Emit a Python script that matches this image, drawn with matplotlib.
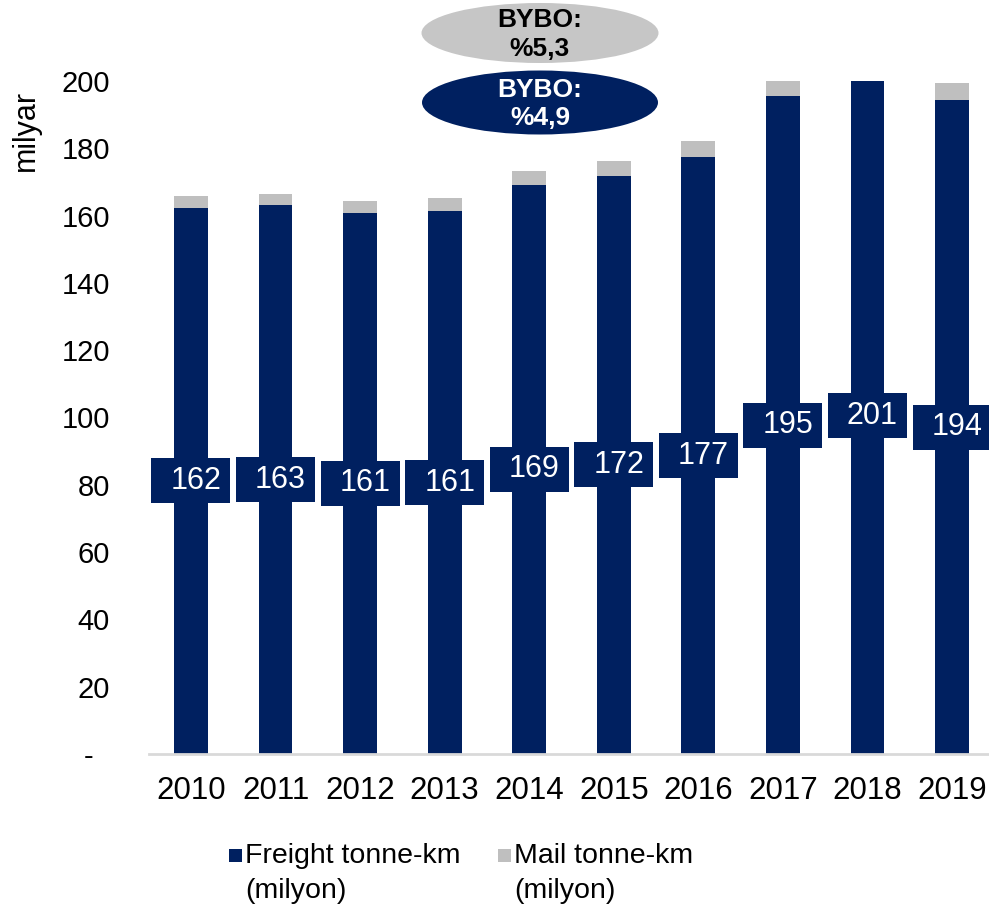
import matplotlib
matplotlib.use("Agg")
import matplotlib.pyplot as plt
from matplotlib.patches import Rectangle, Ellipse
from matplotlib.transforms import ScaledTranslation

plt.rcParams['font.family'] = ['Liberation Sans', 'DejaVu Sans']

years = ['2010', '2011', '2012', '2013', '2014', '2015', '2016', '2017', '2018', '2019']
freight = [162.4, 163.1, 160.9, 161.3, 169.2, 171.8, 177.4, 195.4, 200.9, 194.3]
mail = [3.4, 3.4, 3.5, 3.8, 4.2, 4.3, 4.8, 4.8, 4.9, 5.1]
series_names = ['Freight tonne-km', 'Mail tonne-km']
unit_line = '(milyon)'
yticks = [0, 20, 40, 60, 80, 100, 120, 140, 160, 180, 200]
ytick_labels = ['-  ', '20', '40', '60', '80', '100', '120', '140', '160', '180', '200']
bubble_texts = ['BYBO:\n%5,3', 'BYBO:\n%4,9']

NAVY = '#002060'
GRAY = '#BFBFBF'

W, H = 989, 907
fig = plt.figure(figsize=(W / 100, H / 100), dpi=100)
ax_left = 148.7 / W
ax_bottom = 1 - 754 / H
ax_top = 1 - 81 / H
ax = fig.add_axes([ax_left, ax_bottom, 1 - ax_left, ax_top - ax_bottom])

x = list(range(len(years)))
ax.bar(x, freight, width=0.4, color=NAVY, zorder=2)
ax.bar(x, mail, width=0.4, bottom=freight, color=GRAY, zorder=2)

ax.set_ylim(0, 200)
ax.set_xlim(-0.5, 9.5 - (994.3 - 989) / 84.6)
ax.set_yticks(yticks)
ax.set_yticklabels(ytick_labels)
ax.set_xticks(x)
ax.set_xticklabels(years)
ax.tick_params(axis='y', length=0, pad=28, labelsize=21)
ax.tick_params(axis='x', length=0, pad=16, labelsize=22.5)
for s in ['top', 'right', 'left']:
    ax.spines[s].set_visible(False)
ax.spines['bottom'].set_color('#D9D9D9')
ax.spines['bottom'].set_linewidth(2)
ax.spines['bottom'].set_zorder(3)

# value labels in boxes
for xi, v in zip(x, freight):
    tr = fig.dpi_scale_trans + ScaledTranslation(xi, v / 2, ax.transData)
    ax.add_patch(Rectangle((-0.395, -0.225), 0.79, 0.45, transform=tr,
                           facecolor=NAVY, edgecolor='none', zorder=4, clip_on=False))
    ax.text(0.05, 0.0, f"{round(v)}", transform=tr, color='white', fontsize=22,
            ha='center', va='center', zorder=5)

# y label
fig.text(26 / W, 1 - 130 / H, 'milyar', rotation=90, fontsize=22, ha='center', va='center')

# bubbles
ell_specs = [(540, 33, 237, 60, '#C6C6C6', 'black'), (540, 102.5, 236, 64, NAVY, 'white')]
for (cx, cy, ew, eh, fc, tc), txt in zip(ell_specs, bubble_texts):
    fig.patches.append(Ellipse((cx / W, 1 - cy / H), ew / W, eh / H, transform=fig.transFigure,
                               facecolor=fc, edgecolor='none'))
    fig.text(cx / W, 1 - (cy + 1.5) / H, txt, color=tc, fontsize=19, fontweight='bold',
             ha='center', va='center', linespacing=1.25)

# legend
leg_specs = [(229, NAVY), (498, GRAY)]
for (sx, col), name in zip(leg_specs, series_names):
    fig.patches.append(Rectangle((sx / W, 1 - 862 / H), 13 / W, 13 / H, transform=fig.transFigure,
                                 facecolor=col, edgecolor='none'))
    fig.text((sx + 16) / W, 1 - 863 / H, name, fontsize=20.5, ha='left', va='baseline')
    fig.text((sx + 16) / W, 1 - 898 / H, unit_line, fontsize=20.5, ha='left', va='baseline')

fig.savefig('out.png', dpi=100)
